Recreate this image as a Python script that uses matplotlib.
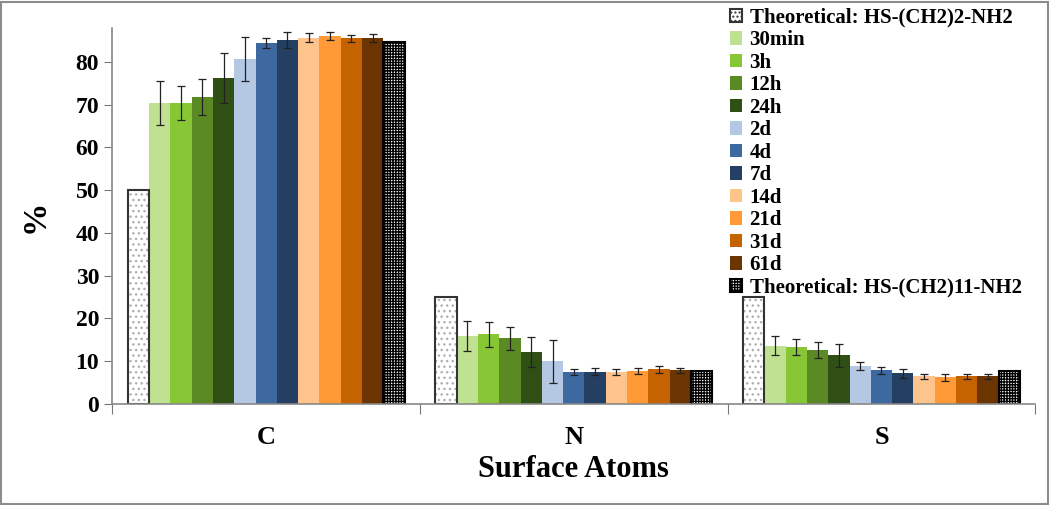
import numpy as np
import matplotlib
matplotlib.use("Agg")
import matplotlib.pyplot as plt
from matplotlib.patches import Rectangle

plt.rcParams["font.family"] = ["Liberation Serif", "DejaVu Serif"]
plt.rcParams["font.weight"] = "bold"
plt.rcParams["hatch.linewidth"] = 1.0

atoms = ["C", "N", "S"]
series = ["Theoretical: HS-(CH2)2-NH2", "30min", "3h", "12h", "24h", "2d", "4d", "7d",
          "14d", "21d", "31d", "61d", "Theoretical: HS-(CH2)11-NH2"]
colors = ["white", "#C0E192", "#87C736", "#5B8A25", "#2F4F14", "#B4C8E3", "#3D69A0",
          "#243F62", "#FFC38C", "#FF9A37", "#C56300", "#6B3400", "white"]

# % per atom (C, N, S) for each series
values = [
    [50.0, 25.0, 25.0],
    [70.4, 15.9, 13.6],
    [70.4, 16.3, 13.3],
    [71.9, 15.4, 12.7],
    [76.2, 12.2, 11.4],
    [80.7, 10.0, 8.9],
    [84.4, 7.6, 7.9],
    [85.1, 7.6, 7.2],
    [85.7, 7.6, 6.5],
    [86.0, 7.8, 6.2],
    [85.5, 8.1, 6.5],
    [85.6, 7.9, 6.5],
    [84.6, 7.7, 7.7],
]
errors = [
    None,
    [5.2, 3.4, 2.2],
    [4.0, 2.9, 1.9],
    [4.2, 2.7, 1.9],
    [5.9, 3.5, 2.7],
    [5.2, 5.0, 0.9],
    [1.1, 0.7, 0.8],
    [1.8, 0.9, 1.1],
    [1.0, 0.7, 0.6],
    [0.9, 0.7, 0.8],
    [0.8, 0.8, 0.6],
    [0.9, 0.6, 0.6],
    None,
]

fig = plt.figure(figsize=(10.5, 5.05), dpi=100)
fig.patches.append(Rectangle((0.001, 0.002), 0.997, 0.995, transform=fig.transFigure,
                             fill=False, edgecolor="#8c8c8c", linewidth=1.5))
ax = fig.add_axes([0.107, 0.2, 0.879, 0.745])

x = np.arange(len(atoms))
n = len(series)
w = 0.9 / n
for i, name in enumerate(series):
    pos = x - 0.45 + w * (i + 0.5)
    vals = values[i]
    if i == 0:
        # light grey dots underneath, dark outline on top
        ax.bar(pos, vals, w, color="white", edgecolor="#b0b0b0", linewidth=0,
               hatch="...", zorder=2)
        ax.bar(pos, vals, w, fill=False, edgecolor="#333333", linewidth=1.5,
               label=name, zorder=2.1)
    elif i == n - 1:
        ax.bar(pos, vals, w, color="white", edgecolor="black", linewidth=1.5,
               hatch="++++++", label=name, zorder=2)
    else:
        ax.bar(pos, vals, w, color=colors[i], edgecolor="none", label=name, zorder=2)
        ax.errorbar(pos, vals, yerr=errors[i], fmt="none", ecolor="#222222",
                    elinewidth=0.9, capsize=3, capthick=0.9, zorder=3)

ax.set_xlim(-0.5, 2.5)
ax.set_ylim(0, 88)
ax.set_yticks(np.arange(0, 90, 10))
ax.set_xticks([-0.5, 0.5, 1.5, 2.5])
ax.set_xticklabels([])
ax.set_xticks(x, minor=True)
ax.set_xticklabels(atoms, minor=True, fontsize=19, fontweight="bold")
ax.tick_params(axis="x", which="major", length=7, direction="out", color="#777777")
ax.tick_params(axis="x", which="minor", length=0, pad=16)
ax.tick_params(axis="y", length=6, direction="out", color="#777777", labelsize=17)
for lab in ax.get_yticklabels():
    lab.set_fontweight("bold")
for s in ["top", "right"]:
    ax.spines[s].set_visible(False)
for s in ["left", "bottom"]:
    ax.spines[s].set_color("#888888")
    ax.spines[s].set_linewidth(1.2)

ax.set_xlabel("Surface Atoms", fontsize=22, fontweight="bold", labelpad=4)
ax.set_ylabel("%", fontsize=24, fontweight="bold", labelpad=18)

leg = ax.legend(loc="upper left", bbox_to_anchor=(0.66, 1.075), frameon=False,
                fontsize=15, handlelength=0.6, handleheight=0.6, handletextpad=0.35,
                labelspacing=0.12, borderaxespad=0)
for t in leg.get_texts():
    t.set_fontweight("bold")
leg.legend_handles[0].set_hatch("....")

fig.savefig("out.png", dpi=100)
